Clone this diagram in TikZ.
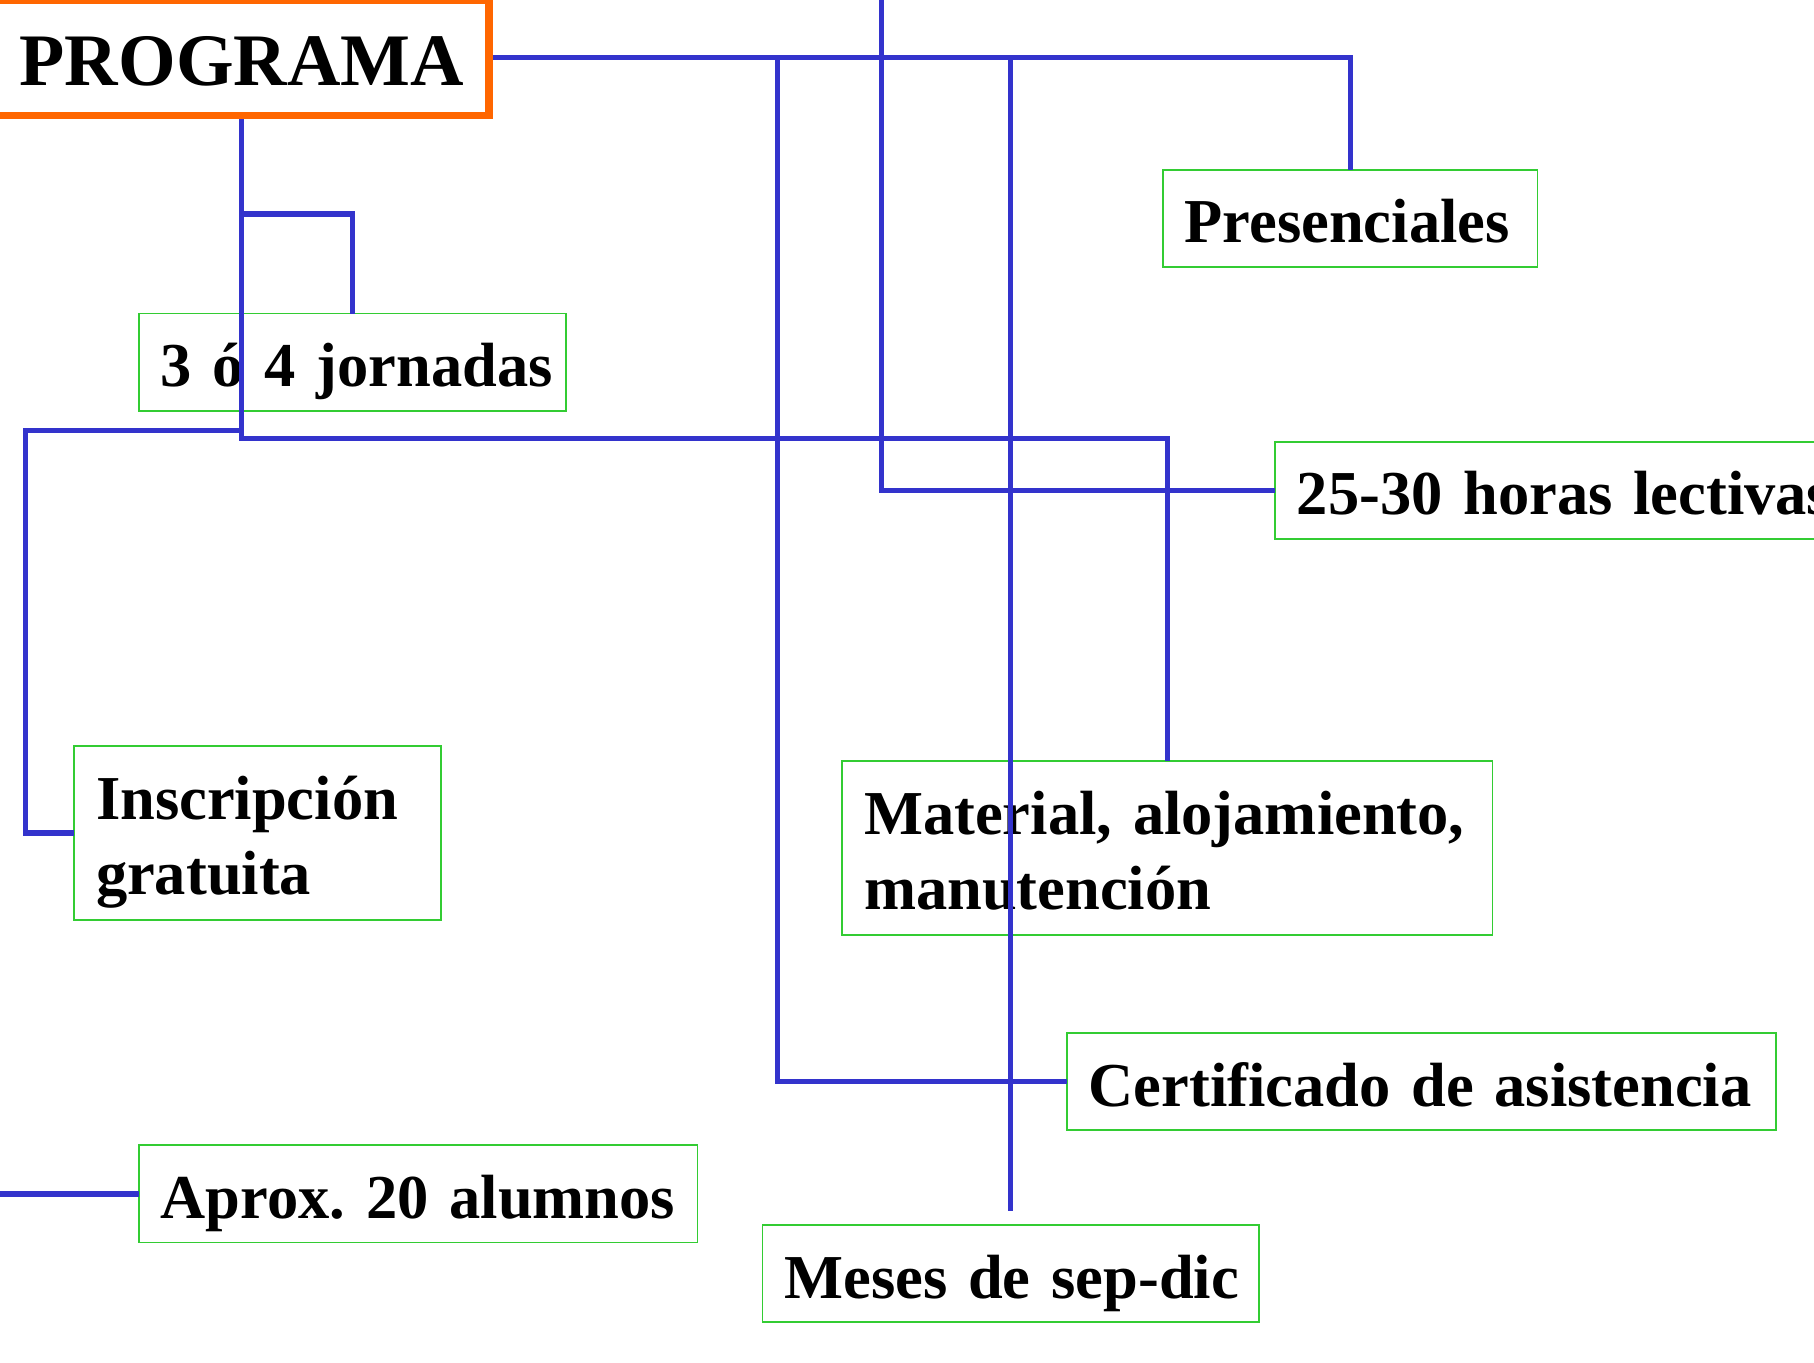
\documentclass[tikz,border=0pt]{standalone}
\usepackage{fontspec}
\setmainfont{Liberation Serif}[WordSpace=0.85]
\frenchspacing
\definecolor{linkblue}{HTML}{3333CC}
\definecolor{boxgreen}{HTML}{33CC33}
\definecolor{progorange}{HTML}{FF6600}
\tikzset{
  item/.style={draw=boxgreen, line width=1.5pt, anchor=north west, inner xsep=19pt, inner ysep=0pt,
    outer sep=0pt, align=left, text height=63pt, text depth=21pt, font=\fontsize{54}{65}\selectfont\bfseries},
  twolines/.style={text depth=87pt},
  link/.style={draw=linkblue, line width=4.5pt},
}
\begin{document}
\begin{tikzpicture}[x=1pt,y=-1pt]
	\useasboundingbox (0,0) rectangle (1568,1178);
	\node[draw=progorange, line width=6.5pt, anchor=north east, inner xsep=20pt, inner ysep=0pt, outer sep=0pt,
		text width=387pt, align=center, text height=73.5pt, text depth=26.5pt,
		font=\fontsize{64}{70}\selectfont\bfseries] (prog) at (422.5,0) {PROGRAMA};
	%\node (prog) ...
	\node[item, text width=286pt] (pres) at (1005,147) {\mbox{Presenciales}};
	\node[item, text width=331pt] (jorn) at (120,271) {\mbox{3 ó 4 jornadas}};
	\node[item, text width=482pt] (horas) at (1102,382) {\mbox{25-30 horas lectivas}};
	\node[item, twolines, text width=279pt] (insc) at (64,645) {Inscripción\\gratuita};
	\node[item, twolines, text width=524pt] (mat) at (728,658) {\mbox{Material, alojamiento,}\\manutención};
	\node[item, text width=575pt] (cert) at (922,893) {\mbox{Certificado de asistencia}};
	\node[item, text width=445pt] (alum) at (120,990) {\mbox{Aprox. 20 alumnos}};
	\node[item, text width=391pt] (meses) at (659,1059) {\mbox{Meses de sep-dic}};
	\coordinate (bjorn) at (209,185);
	\coordinate (binsc) at (209,372);
	\coordinate (kinsc) at (22,372);
	\coordinate (bmat) at (209,379);
	\coordinate (bcert) at (672,50);
	\coordinate (thoras) at (762,-20);
	\coordinate (lalum) at (-20,1032);
	\draw[link, shorten <=3.25pt] (prog.east) -| (pres.north);
	\draw[link] (bcert) |- (cert.west);
	\draw[link] (prog.east -| meses.north) -- ([yshift=12pt]meses.north);
	\draw[link] (thoras) |- (horas.west);
	\draw[link, shorten <=3.25pt] (prog.south) -- (bmat) -| (mat.north);
	\draw[link] (bjorn) -| (jorn.north);
	\draw[link] (binsc) -- (kinsc) |- (insc.west);
	\draw[link] (lalum) -- (alum.west);
\end{tikzpicture}
\end{document}
